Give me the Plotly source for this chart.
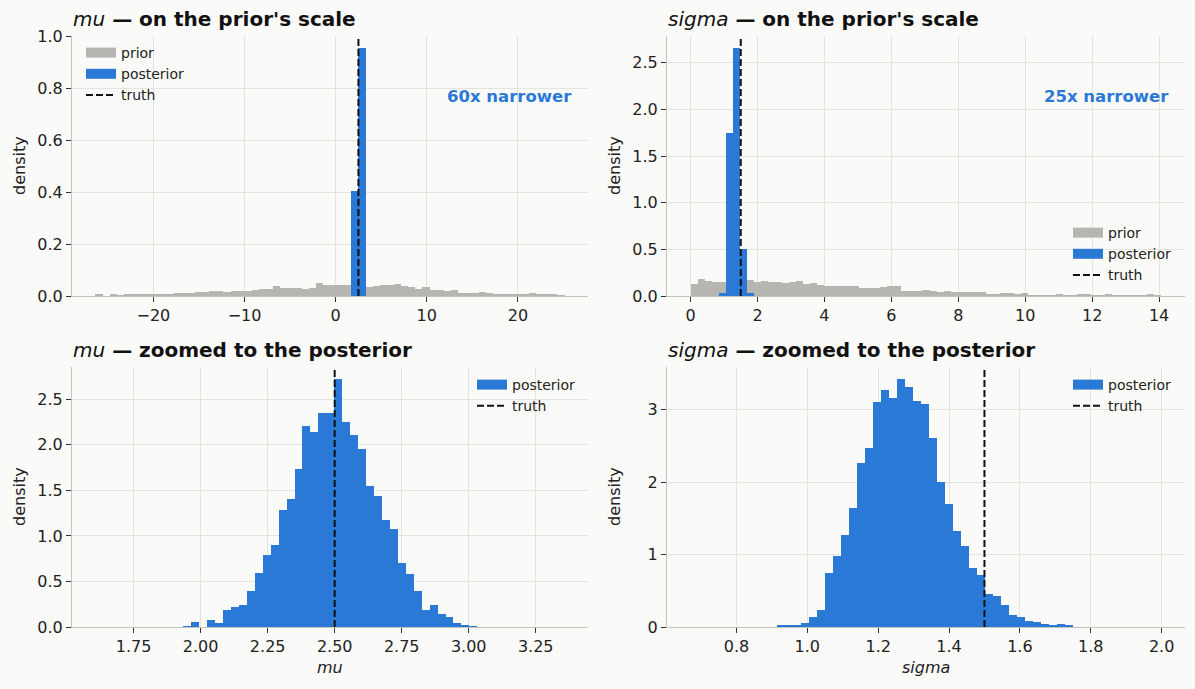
import numpy as np
import plotly.graph_objects as go

TRUE_MU = 2.5
TRUE_SIGMA = 1.5

# prior-scale panels: equal-width bins shared by prior and posterior
MU_PRIOR_START = -26.36
MU_PRIOR_WIDTH = 0.78
MU_PRIOR_DENSITY = [
    0.004, 0.0, 0.004, 0.002, 0.005, 0.005, 0.008, 0.008, 0.008, 0.009,
    0.009, 0.010, 0.012, 0.013, 0.015, 0.016, 0.018, 0.018, 0.017, 0.019,
    0.019, 0.020, 0.023, 0.027, 0.026, 0.039, 0.031, 0.031, 0.031, 0.028,
    0.032, 0.050, 0.041, 0.041, 0.043, 0.043, 0.042, 0.040, 0.034, 0.040,
    0.044, 0.041, 0.048, 0.039, 0.034, 0.028, 0.035, 0.025, 0.023, 0.018,
    0.025, 0.013, 0.013, 0.010, 0.017, 0.012, 0.009, 0.008, 0.007, 0.007,
    0.008, 0.010, 0.004, 0.004, 0.004, 0.003,
]
MU_POST_COARSE_EDGES = [1.72, 2.50, 3.28]
MU_POST_COARSE_DENSITY = [0.405, 0.955]

SIGMA_PRIOR_START = 0.0
SIGMA_PRIOR_WIDTH = 0.21
SIGMA_PRIOR_DENSITY = [
    0.128, 0.181, 0.160, 0.149, 0.149, 0.150, 0.155, 0.155, 0.170, 0.152,
    0.160, 0.152, 0.149, 0.142, 0.152, 0.160, 0.128, 0.138, 0.117, 0.106,
    0.106, 0.106, 0.106, 0.106, 0.085, 0.085, 0.085, 0.096, 0.106, 0.106,
    0.053, 0.053, 0.057, 0.064, 0.053, 0.046, 0.050, 0.043, 0.043, 0.043,
    0.043, 0.043, 0.014, 0.014, 0.029, 0.029, 0.014, 0.029, 0.007, 0.007,
    0.007, 0.007, 0.021, 0.004, 0.004, 0.011, 0.011, 0.004, 0.004, 0.011,
    0.004, 0.004, 0.004, 0.004, 0.004, 0.011, 0.004,
]
SIGMA_POST_COARSE_EDGES = [0.84, 1.05, 1.26, 1.47, 1.68, 1.89]
SIGMA_POST_COARSE_DENSITY = [0.028, 1.745, 2.655, 0.50, 0.028]

# zoomed panels: posterior only, finer bins
MU_POST_START = 1.935
MU_POST_WIDTH = 0.02965
MU_POST_DENSITY = [
    0.011, 0.055, 0.0, 0.077, 0.044, 0.186, 0.219, 0.241, 0.398, 0.596,
    0.789, 0.899, 1.283, 1.404, 1.732, 2.204, 2.138, 2.346, 2.346, 2.719,
    2.248, 2.105, 1.952, 1.546, 1.436, 1.173, 1.075, 0.705, 0.581, 0.398,
    0.186, 0.241, 0.143, 0.110, 0.044, 0.022, 0.011,
]
MU_ZOOM_RANGE = [1.52, 3.445]

SIGMA_POST_START = 0.915
SIGMA_POST_WIDTH = 0.02254
SIGMA_POST_DENSITY = [
    0.028, 0.028, 0.014, 0.055, 0.138, 0.234, 0.749, 0.979, 1.269, 1.641,
    2.262, 2.469, 3.103, 3.269, 3.159, 3.421, 3.310, 3.117, 3.076, 2.607,
    2.000, 1.697, 1.324, 1.117, 0.814, 0.717, 0.455, 0.428, 0.303, 0.166,
    0.138, 0.083, 0.069, 0.041, 0.028, 0.041, 0.028,
]
SIGMA_ZOOM_RANGE = [0.604, 2.066]

NARROWER = ["60x narrower", "25x narrower"]

W, H = 1195, 689
BG = "#fafaf8"
BLUE = "#2b79d6"
GRAY = "#b6b5b1"
GRID = "#e4e4de"
SPINE = "#c4c4bc"
INK = "#222222"
FONT = "DejaVu Sans"


def even_edges(start, width, n):
    return start + width * np.arange(n + 1)


def bar(edges, dens, color):
    edges = np.asarray(edges, dtype=float)
    return go.Bar(
        x=(edges[:-1] + edges[1:]) / 2, y=dens, width=np.diff(edges),
        marker=dict(color=color, line=dict(width=0)), showlegend=False,
    )


def key(name, line, legend):
    # legend-only entry: a wide patch / dashed stroke like the matplotlib handles
    return go.Scatter(x=[None], y=[None], mode="lines", name=name, line=line, legend=legend)


def padded(lo, hi, frac=0.05):
    span = hi - lo
    return [lo - frac * span, hi + frac * span]


def px_x(p):
    return p / W


def px_y(p):
    return 1 - p / H


fig = go.Figure()
panels = [("x", "y", "legend"), ("x2", "y2", "legend2"), ("x3", "y3", "legend3"), ("x4", "y4", "legend4")]

mu_prior_edges = even_edges(MU_PRIOR_START, MU_PRIOR_WIDTH, len(MU_PRIOR_DENSITY))
sigma_prior_edges = even_edges(SIGMA_PRIOR_START, SIGMA_PRIOR_WIDTH, len(SIGMA_PRIOR_DENSITY))
mu_post_edges = even_edges(MU_POST_START, MU_POST_WIDTH, len(MU_POST_DENSITY))
sigma_post_edges = even_edges(SIGMA_POST_START, SIGMA_POST_WIDTH, len(SIGMA_POST_DENSITY))

traces = [
    (0, bar(mu_prior_edges, MU_PRIOR_DENSITY, GRAY)),
    (0, bar(MU_POST_COARSE_EDGES, MU_POST_COARSE_DENSITY, BLUE)),
    (1, bar(sigma_prior_edges, SIGMA_PRIOR_DENSITY, GRAY)),
    (1, bar(SIGMA_POST_COARSE_EDGES, SIGMA_POST_COARSE_DENSITY, BLUE)),
    (2, bar(mu_post_edges, MU_POST_DENSITY, BLUE)),
    (3, bar(sigma_post_edges, SIGMA_POST_DENSITY, BLUE)),
]
for i, tr in traces:
    tr.update(xaxis=panels[i][0], yaxis=panels[i][1])
    fig.add_trace(tr)

truth_line = dict(color="#111111", width=2, dash="7px,3px")
for i, t in enumerate([TRUE_MU, TRUE_SIGMA, TRUE_MU, TRUE_SIGMA]):
    xa, ya, lg = panels[i]
    fig.add_shape(type="line", xref=xa, yref=f"{ya} domain", x0=t, x1=t, y0=0, y1=1,
                  line=truth_line, layer="above")
    entries = [("posterior", dict(color=BLUE, width=10)), ("truth", truth_line)]
    if i < 2:
        entries.insert(0, ("prior", dict(color=GRAY, width=10)))
    for name, line in entries:
        k = key(name, line, lg)
        k.update(xaxis=xa, yaxis=ya)
        fig.add_trace(k)

# axes boxes in pixels: (left, right, top, bottom)
boxes = [(72, 588, 36, 296), (667, 1185, 36, 296), (72, 588, 367, 627), (667, 1185, 367, 627)]
x_ranges = [
    padded(mu_prior_edges[0], mu_prior_edges[-1]),
    padded(sigma_prior_edges[0], sigma_prior_edges[-1]),
    MU_ZOOM_RANGE,
    SIGMA_ZOOM_RANGE,
]
y_tops = [max(d) * 1.05 for d in
          (MU_POST_COARSE_DENSITY, SIGMA_POST_COARSE_DENSITY, MU_POST_DENSITY, SIGMA_POST_DENSITY)]
x_ticks = [(10, None), (2, None), (0.25, ".2f"), (0.2, ".1f")]
y_ticks = [(0.2, ".1f"), (0.5, ".1f"), (0.5, ".1f"), (1, "d")]

axis_common = dict(
    showgrid=True, gridcolor=GRID, gridwidth=1, zeroline=False,
    showline=True, linecolor=SPINE, linewidth=1, mirror=False,
    ticks="outside", ticklen=5, tickcolor="#333333", tickwidth=1,
    tickfont=dict(family=FONT, size=16, color=INK), automargin=False,
)

layout = {}
for i, (l, r, t, b) in enumerate(boxes):
    sx = "" if i == 0 else str(i + 1)
    xdt, xfmt = x_ticks[i]
    ydt, yfmt = y_ticks[i]
    xa = dict(axis_common, domain=[px_x(l), px_x(r)], range=x_ranges[i],
              anchor=f"y{sx}", dtick=xdt, tick0=0)
    if xfmt:
        xa["tickformat"] = xfmt
    layout[f"xaxis{sx}"] = xa
    layout[f"yaxis{sx}"] = dict(axis_common, domain=[px_y(b), px_y(t)], range=[0, y_tops[i]],
                                anchor=f"x{sx}", dtick=ydt, tick0=0, tickformat=yfmt)

legend_common = dict(bgcolor="rgba(0,0,0,0)", font=dict(family=FONT, size=14, color=INK),
                     itemwidth=30, tracegroupgap=0)
layout["legend"] = dict(legend_common, x=px_x(81), y=px_y(37), xanchor="left", yanchor="top")
layout["legend2"] = dict(legend_common, x=px_x(1177), y=px_y(291), xanchor="right", yanchor="bottom")
layout["legend3"] = dict(legend_common, x=px_x(581), y=px_y(369), xanchor="right", yanchor="top")
layout["legend4"] = dict(legend_common, x=px_x(1177), y=px_y(369), xanchor="right", yanchor="top")

fig.update_layout(
    width=W, height=H, margin=dict(l=0, r=0, t=0, b=0),
    paper_bgcolor=BG, plot_bgcolor=BG, barmode="overlay", bargap=0,
    font=dict(family=FONT, size=16, color=INK),
    **layout,
)

titles = [
    "<i>mu</i><b> \u2014 on the prior's scale</b>",
    "<i>sigma</i><b> \u2014 on the prior's scale</b>",
    "<i>mu</i><b> \u2014 zoomed to the posterior</b>",
    "<i>sigma</i><b> \u2014 zoomed to the posterior</b>",
]
for (l, r, t, b), text in zip(boxes, titles):
    fig.add_annotation(text=text, xref="paper", yref="paper", x=px_x(l - 1), y=px_y(t - 17),
                       xanchor="left", yanchor="middle", showarrow=False,
                       font=dict(family=FONT, size=20, color="#111111"))

for l, r, t, b in boxes:
    fig.add_annotation(text="density", xref="paper", yref="paper", x=px_x(l - 53),
                       y=px_y((t + b) / 2), textangle=-90, showarrow=False,
                       xanchor="center", yanchor="middle",
                       font=dict(family=FONT, size=16, color=INK))

for i, label in [(2, "<i>mu</i>"), (3, "<i>sigma</i>")]:
    l, r, t, b = boxes[i]
    fig.add_annotation(text=label, xref="paper", yref="paper", x=px_x((l + r) / 2),
                       y=px_y(b + 40), showarrow=False, xanchor="center", yanchor="middle",
                       font=dict(family=FONT, size=16, color=INK))

for (l, r, t, b), text in zip(boxes, NARROWER):
    fig.add_annotation(text=f"<b>{text}</b>", xref="paper", yref="paper", x=px_x(r - 14),
                       y=px_y(t + 60), showarrow=False, xanchor="right", yanchor="middle",
                       font=dict(family=FONT, size=16.5, color=BLUE))

fig.write_html(
    "out.html",
    config={"displayModeBar": False},
    post_script="document.body.style.margin='0px';document.body.style.overflow='hidden';",
)
